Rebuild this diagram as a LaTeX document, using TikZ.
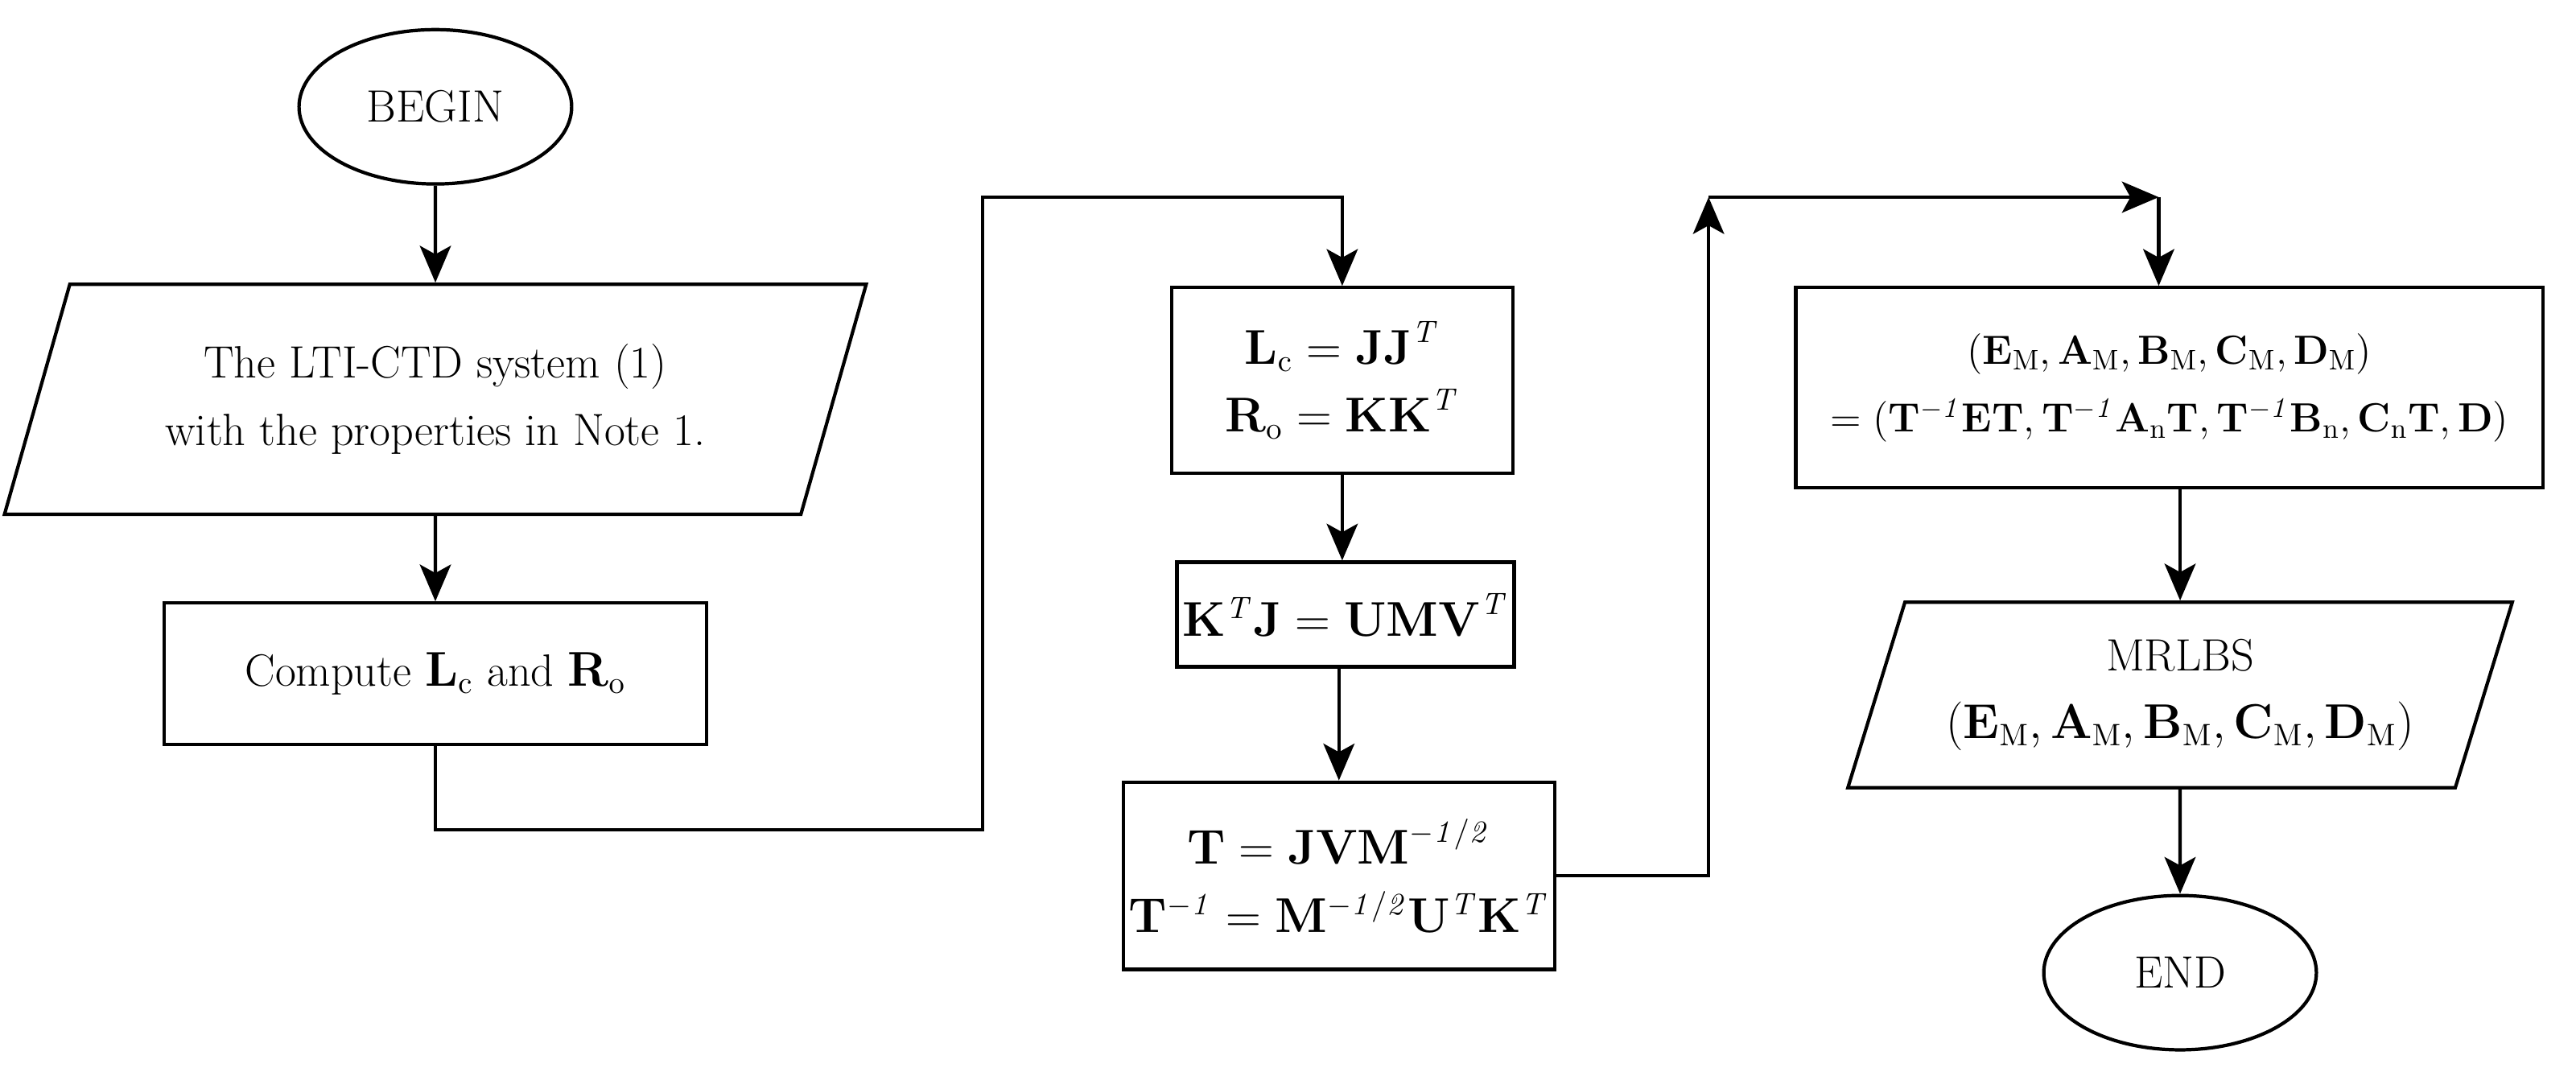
\documentclass[tikz,border=0pt]{standalone}
\usetikzlibrary{shapes.geometric,arrows.meta}
\begin{document}
\begin{tikzpicture}[x=0.02041cm,y=-0.02041cm,
  every node/.style={font=\fontsize{16}{24}\selectfont, align=center, draw, line width=1.2pt, inner sep=2pt},
  box/.style={rectangle},
  term/.style={ellipse, minimum width=3.388cm, minimum height=1.918cm},
  io/.style={trapezium, trapezium stretches=true, trapezium left angle=68, trapezium right angle=112},
  arr/.style={line width=1.2pt, -{Stealth[length=13pt,width=11pt,inset=3pt]}},
  ln/.style={line width=1.2pt}]
\useasboundingbox (0,0) rectangle (1568,650);
\node[term] (begin) at (265,65) {BEGIN};
\node[io, minimum width=10.715cm, minimum height=2.857cm] (sys) at (265,243) {The LTI-CTD system (1)\\ with the properties in Note 1.};
\node[box, minimum width=6.735cm, minimum height=1.755cm] (comp) at (265,410) {Compute $\mathbf{L}_{\mathrm{c}}$ and $\mathbf{R}_{\mathrm{o}}$};
\node[box, minimum width=4.245cm, minimum height=2.306cm] (b1) at (817,231.5) {$\mathbf{L}_{\mathrm{c}} = \mathbf{JJ}^{\mathit{T}}$\\ $\mathbf{R}_{\mathrm{o}} = \mathbf{KK}^{\mathit{T}}$};
\node[box, minimum width=3.898cm, minimum height=1.3cm] (b2) at (819,374) {$\mathbf{K}^{\mathit{T}}\mathbf{J} = \mathbf{UMV}^{\mathit{T}}$};
\node[box, minimum width=5.102cm, minimum height=2.327cm] (b3) at (815,533) {$\mathbf{T} = \mathbf{JVM}^{\mathit{-1/2}}$\\ $\mathbf{T}^{\mathit{-1}} = \mathbf{M}^{\mathit{-1/2}}\mathbf{U}^{\mathit{T}}\mathbf{K}^{\mathit{T}}$};
\node[box, minimum width=9.287cm, minimum height=2.49cm, font=\fontsize{14.5}{24}\selectfont] (out) at (1320.5,236) {$(\mathbf{E}_{\mathrm{M}}, \mathbf{A}_{\mathrm{M}}, \mathbf{B}_{\mathrm{M}}, \mathbf{C}_{\mathrm{M}}, \mathbf{D}_{\mathrm{M}})$\\ $=(\mathbf{T}^{\mathit{-1}}\mathbf{ET}, \mathbf{T}^{\mathit{-1}}\mathbf{A}_{\mathrm{n}}\mathbf{T}, \mathbf{T}^{\mathit{-1}}\mathbf{B}_{\mathrm{n}}, \mathbf{C}_{\mathrm{n}}\mathbf{T}, \mathbf{D})$};
\node[io, minimum width=8.266cm, minimum height=2.306cm] (mr) at (1327,423) {MRLBS\\ $(\mathbf{E}_{\mathrm{M}}, \mathbf{A}_{\mathrm{M}}, \mathbf{B}_{\mathrm{M}}, \mathbf{C}_{\mathrm{M}}, \mathbf{D}_{\mathrm{M}})$};
\node[term] (end) at (1327,592) {END};
\coordinate (c0) at (598,505);
\coordinate (c1) at (598,120);
\coordinate (c2) at (1040,120);
\coordinate (c3) at (1314,120);
\draw[arr] (begin) -- (sys);
\draw[arr] (sys) -- (comp);
\draw[arr] (comp.south) |- (c0) -- (c1) -| (b1.north);
\draw[arr] (b1) -- (b1 |- b2.north);
\draw[arr] (b2.south -| b3.north) -- (b3.north);
\draw[arr] (b3.east) -| (c2);
\draw[arr] (c2) -- (c3);
\draw[arr] (c3) -- (c3 |- out.north);
\draw[arr] (out.south -| mr.north) -- (mr.north);
\draw[arr] (mr) -- (end);
\end{tikzpicture}
\end{document}
